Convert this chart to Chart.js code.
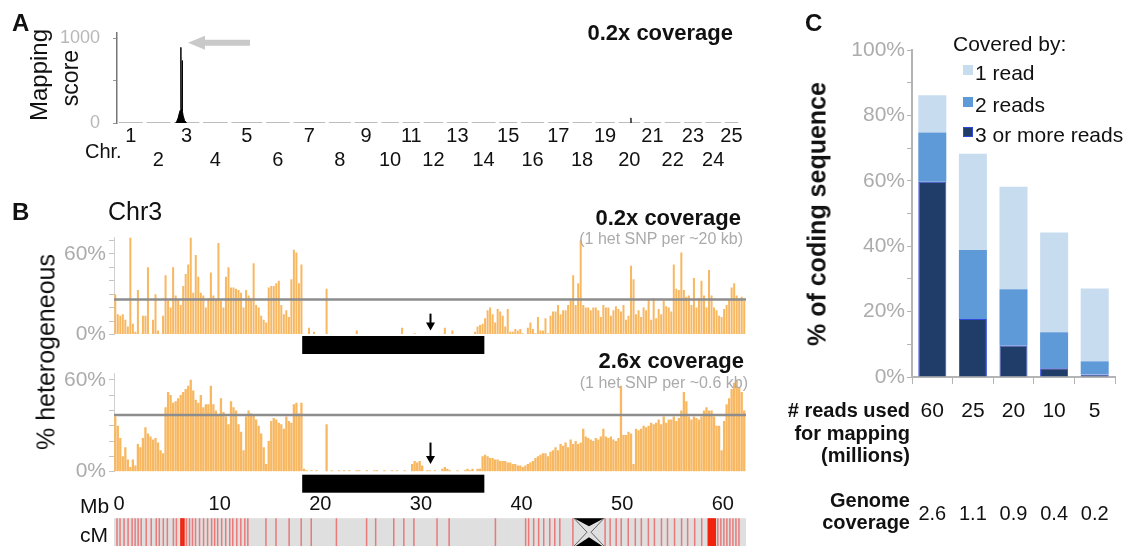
<!DOCTYPE html>
<html>
<head>
<meta charset="utf-8">
<title>Mapping by sequencing</title>
<script src="https://cdn.jsdelivr.net/npm/chart.js@4.4.1/dist/chart.umd.min.js"></script>
<style>
  html, body { margin: 0; padding: 0; background: #fff; }
  body { position: relative; width: 1132px; height: 546px; overflow: hidden;
         font-family: 'Liberation Sans', Arial, sans-serif; color: #111; }
  canvas { position: absolute; }
  .t { position: absolute; white-space: nowrap; line-height: 1; }
  .l { transform: translateY(-50%); }
  .r { transform: translate(-100%, -50%); text-align: right; }
  .v { transform: translate(-50%, -50%) rotate(-90deg); }
  .b { font-weight: bold; }
  .g { color: #ababab; }
  .key { position: absolute; width: 10px; height: 10px; }
</style>
</head>
<body>
<canvas id="chart-a" width="760" height="180" style="left:0;top:0"></canvas>
<canvas id="chart-b1" width="760" height="136" style="left:0;top:222px"></canvas>
<canvas id="chart-b2" width="760" height="188" style="left:0;top:358px"></canvas>
<canvas id="chart-c" width="372" height="546" style="left:760px;top:0"></canvas>

<!-- panel A labels -->
<div class="t b l" style="left:12px;top:23px;font-size:24px">A</div>
<div class="t b r" style="left:733px;top:33px;font-size:22px">0.2x coverage</div>
<div class="t v" style="left:39px;top:75px;font-size:24px">Mapping</div>
<div class="t v" style="left:70px;top:78px;font-size:23px">score</div>
<div class="t l" style="left:85px;top:151px;font-size:20px">Chr.</div>

<!-- panel B labels -->
<div class="t b l" style="left:12px;top:212px;font-size:24px">B</div>
<div class="t l" style="left:108px;top:211px;font-size:25px">Chr3</div>
<div class="t b r" style="left:741px;top:218px;font-size:22px">0.2x coverage</div>
<div class="t g r" style="left:743px;top:239px;font-size:16px">(1 het SNP per ~20 kb)</div>
<div class="t b r" style="left:744px;top:361px;font-size:22px">2.6x coverage</div>
<div class="t g r" style="left:748px;top:383px;font-size:16px">(1 het SNP per ~0.6 kb)</div>
<div class="t v" style="left:46px;top:352px;font-size:25px">% heterogeneous</div>
<div class="t l" style="left:80px;top:505px;font-size:21px">Mb</div>
<div class="t l" style="left:80px;top:534px;font-size:21px">cM</div>

<!-- panel C labels -->
<div class="t b l" style="left:805px;top:23px;font-size:24px">C</div>
<div class="t b v" style="left:817px;top:214px;font-size:25px">% of coding sequence</div>
<div class="t l" style="left:953px;top:43px;font-size:21px">Covered by:</div>
<div id="legend-c"></div>
<div class="t b r" style="left:910px;top:410px;font-size:20px">#&nbsp;reads used</div>
<div class="t b r" style="left:910px;top:433px;font-size:20px">for mapping</div>
<div class="t b r" style="left:910px;top:455px;font-size:20px">(millions)</div>
<div class="t b r" style="left:910px;top:500px;font-size:20px">Genome</div>
<div class="t b r" style="left:910px;top:522px;font-size:20px">coverage</div>

<script>
// ---------- Panel A: genome-wide mapping score ----------
const chromosomes = ['1', '2', '3', '4', '5', '6', '7', '8', '9', '10', '11', '12', '13',
                     '14', '15', '16', '17', '18', '19', '20', '21', '22', '23', '24', '25'];
const chrLengthsMb = [60.3, 60.3, 63.3, 62.1, 75.7, 59.9, 77.3, 56.2, 58.3, 46.6, 46.2, 50.7, 54.1,
                      60.2, 47.4, 58.8, 53.9, 49.9, 50.7, 55.2, 45.9, 42.3, 46.4, 42.1, 37.5];
// peak on chr3 (position within chr3, Mb) and its score
const chr3PeakMb    = [7.5, 10, 13, 15.5, 17.5, 18.8, 19.2, 19.6, 21.6, 22, 22.4, 24, 27, 31.5];
const chr3PeakScore = [0, 20, 60, 115, 150, 160, 890, 165, 150, 735, 140, 85, 30, 0];
// small blip on chr20
const chr20PeakMb    = [30.7, 31.1, 31.5];
const chr20PeakScore = [0, 60, 0];
const scoreTicks = [0, 500, 1000];

// ---------- Panel B: % heterogeneous SNPs along chr3 ----------
const binStartMb = -0.5;   // first bin starts here
const binSizeMb = 0.25;
const het02x = [
  30, 15, 14, 15, 11, 6, 72, 8, 2, 33,
  0, 14, 14, 50, 0, 11, 30, 3, 0, 14,
  44, 25, 20, 50, 29, 26, 22, 36, 45, 52,
  72, 31, 59, 43, 31, 29, 20, 27, 46, 29,
  26, 68, 25, 20, 43, 50, 35, 35, 34, 33,
  31, 20, 33, 29, 27, 53, 22, 20, 14, 11,
  9, 35, 36, 36, 38, 40, 22, 15, 18, 13,
  41, 63, 61, 38, 52, 0, 0, 5, 0, 2,
  0, 0, 0, 0, 34, 0, 0, 0, 0, 0,
  0, 0, 0, 0, 0, 0, 3, 0, 0, 0,
  0, 0, 0, 0, 0, 0, 0, 0, 0, 0,
  0, 0, 0, 0, 5, 0, 0, 0, 0, 1,
  0, 0, 0, 0, 0, 0, 0, 0, 0, 0,
  0, 5, 0, 0, 3, 0, 0, 0, 0, 0,
  0, 0, 0, 2, 6, 7, 8, 12, 18, 20,
  15, 9, 19, 17, 14, 6, 19, 2, 2, 4,
  3, 4, 1, 0, 5, 9, 4, 1, 13, 3,
  3, 12, 1, 14, 17, 17, 22, 15, 18, 18,
  22, 25, 44, 22, 38, 70, 22, 20, 20, 18,
  20, 20, 18, 13, 22, 20, 20, 14, 18, 21,
  19, 17, 22, 11, 14, 51, 41, 15, 18, 13,
  20, 18, 26, 11, 27, 12, 19, 15, 25, 21,
  20, 17, 52, 34, 33, 61, 33, 28, 29, 22,
  42, 20, 27, 40, 29, 20, 48, 29, 20, 18,
  14, 13, 19, 22, 26, 35, 38, 29, 27, 28,
  25
];
const het26x = [
  36, 30, 22, 10, 16, 8, 3, 8, 4, 18,
  16, 22, 29, 25, 23, 21, 22, 19, 14, 12,
  42, 52, 50, 45, 46, 48, 50, 52, 54, 56,
  60, 53, 47, 45, 50, 42, 44, 44, 56, 44,
  40, 37, 48, 39, 36, 31, 46, 42, 40, 31,
  26, 14, 36, 40, 38, 37, 34, 30, 25, 16,
  5, 20, 33, 35, 34, 32, 31, 28, 36, 33,
  32, 44, 45, 38, 45, 2, 1, 0, 1, 0,
  1, 0, 0, 0, 31, 0, 1, 0, 0, 1,
  0, 1, 0, 1, 0, 0, 1, 1, 0, 0,
  1, 0, 0, 1, 1, 0, 0, 1, 0, 0,
  1, 0, 1, 0, 0, 1, 0, 0, 5, 7,
  6, 7, 4, 0, 1, 1, 0, 1, 0, 0,
  2, 3, 2, 1, 0, 0, 1, 0, 0, 1,
  2, 1, 2, 0, 2, 2, 10, 11, 10, 9,
  9, 8, 8, 7, 7, 7, 6, 6, 5, 5,
  4, 4, 3, 4, 5, 6, 7, 9, 10, 11,
  12, 12, 10, 13, 14, 16, 14, 18, 17, 19,
  16, 21, 18, 20, 18, 19, 28, 23, 22, 21,
  20, 22, 21, 23, 28, 23, 22, 23, 21, 20,
  22, 56, 24, 24, 26, 25, 5, 28, 27, 28,
  30, 29, 30, 32, 31, 32, 34, 31, 36, 32,
  34, 34, 36, 33, 35, 40, 52, 46, 36, 34,
  36, 35, 34, 36, 40, 42, 40, 40, 36, 30,
  30, 14, 33, 44, 48, 54, 58, 60, 55, 52,
  40
];
const hetThreshold02x = 26;
const hetThreshold26x = 37;
const mbTicks = [0, 10, 20, 30, 40, 50, 60];
const chr3RangeMb = [-0.5, 62.3];
const mappingIntervalMb = [18.2, 36.3];
const candidateMb = 30.9;
const centromereMb = [45.2, 48.2];
const cmMarkersMb = [-0.2, 0.1, 0.5, 0.9, 1.3, 1.6, 1.9, 2.2, 2.7, 3.2, 3.7, 4.0, 4.4, 4.8, 5.4, 5.7,
                     6.7, 7.0, 7.3, 7.6, 8.0, 8.4, 8.8, 9.2, 9.5, 9.8, 10.2, 10.6, 11.0, 11.3, 11.7,
                     12.1, 12.5, 12.8, 14.6, 15.6, 16.9, 18.1, 19.1, 21.6, 24.6, 25.5, 27.3, 28.3,
                     29.3, 31.6, 32.8, 37.4, 40.4, 40.7, 41.2, 41.7, 42.2, 42.8, 43.3, 43.8, 45.1,
                     48.3, 48.8, 49.4, 49.9, 50.6, 51.3, 51.9, 52.6, 53.2, 53.9, 54.5, 55.2, 55.9,
                     56.5, 57.2, 57.9, 59.5, 59.8, 60.1, 60.4, 60.7, 61.0, 61.3, 61.6];
const cmStrongMb = [6.2, 6.4, 58.6, 58.8, 59.0, 59.2];

// ---------- Panel C: coverage of coding sequence ----------
const readsUsed = ['60', '25', '20', '10', '5'];
const genomeCoverage = ['2.6', '1.1', '0.9', '0.4', '0.2'];
const coveredThreePlus = [59.7, 17.7, 9.6, 2.7, 0.8];
const coveredTwo       = [15.1, 21.1, 17.2, 11.0, 4.0];
const coveredOne       = [11.4, 29.5, 31.4, 30.5, 22.3];

const ORANGE = '#f8b862';
const AXIS_GRAY = '#b4b4b4';
const BLUE_LIGHT = '#c8dcf0';
const BLUE_MID = '#5f9ad8';
const BLUE_DARK = '#1f3d68';

Chart.defaults.font.family = "'Liberation Sans', Arial, sans-serif";
Chart.defaults.animation = false;
Chart.defaults.plugins.legend.display = false;
Chart.defaults.plugins.tooltip.enabled = false;

// ---------- build panel A ----------
const chrStartMb = [];
let genomeLengthMb = 0;
chrLengthsMb.forEach(len => { chrStartMb.push(genomeLengthMb); genomeLengthMb += len; });
const chrCentersMb = chrLengthsMb.map((len, i) => chrStartMb[i] + len / 2);

const baselinePoints = [];
chrLengthsMb.forEach((len, i) => {
    baselinePoints.push({ x: chrStartMb[i] + 4, y: 0 });
    baselinePoints.push({ x: chrStartMb[i] + len - 4, y: 0 });
    baselinePoints.push({ x: chrStartMb[i] + len, y: null });
});

const chr3Offset = chrStartMb[2];
const chr20Offset = chrStartMb[19];

// grey arrow pointing at the chr3 peak
const peakArrow = {
    id: 'peakArrow',
    afterDatasetsDraw(chart) {
        const { ctx, scales: { x, y } } = chart;
        const tipX = x.getPixelForValue(chr3Offset + chr3PeakMb[6]) + 7;
        const tipY = y.getPixelForValue(945);
        ctx.save();
        ctx.fillStyle = '#c9c9c9';
        ctx.beginPath();
        ctx.moveTo(tipX, tipY);
        ctx.lineTo(tipX + 17, tipY - 7);
        ctx.lineTo(tipX + 17, tipY - 3);
        ctx.lineTo(tipX + 62, tipY - 3);
        ctx.lineTo(tipX + 62, tipY + 3);
        ctx.lineTo(tipX + 17, tipY + 3);
        ctx.lineTo(tipX + 17, tipY + 7);
        ctx.closePath();
        ctx.fill();
        ctx.restore();
    }
};

new Chart(document.getElementById('chart-a'), {
    type: 'line',
    data: {
        datasets: [
            {
                data: chr3PeakMb.map((m, i) => ({ x: chr3Offset + m, y: chr3PeakScore[i] })),
                borderColor: '#000', backgroundColor: '#000', borderWidth: 1,
                fill: 'origin', pointRadius: 0, tension: 0
            },
            {
                data: chr20PeakMb.map((m, i) => ({ x: chr20Offset + m, y: chr20PeakScore[i] })),
                borderColor: '#222', borderWidth: 1, pointRadius: 0, tension: 0
            },
            {
                data: baselinePoints,
                borderColor: '#bdbdbd', borderWidth: 2, pointRadius: 0, spanGaps: false
            }
        ]
    },
    options: {
        responsive: false,
        layout: { padding: { top: 33, right: 20, bottom: 8, left: 0 } },
        scales: {
            x: {
                type: 'linear', min: 0, max: genomeLengthMb, offset: false,
                grid: { display: false, drawTicks: false },
                border: { display: false },
                afterBuildTicks: s => { s.ticks = chrCentersMb.map(v => ({ value: v })); },
                afterFit: s => { s.height = 49; },
                ticks: {
                    autoSkip: false, maxRotation: 0, minRotation: 0, padding: 1,
                    color: '#111', font: { size: 20 },
                    callback: (v, i) => (i % 2 === 0 ? [chromosomes[i], ''] : ['', chromosomes[i]])
                }
            },
            y: {
                min: 0, max: 1059,
                grid: { drawOnChartArea: false, tickLength: 4, color: '#999' },
                border: { color: '#777', width: 1.5 },
                afterBuildTicks: s => { s.ticks = scoreTicks.map(v => ({ value: v })); },
                afterFit: s => { s.width = 117; },
                ticks: {
                    autoSkip: false, padding: 13, color: '#b8b8b8', font: { size: 18 },
                    callback: v => (v === 500 ? '' : String(v))
                }
            }
        }
    },
    plugins: [peakArrow]
});

// ---------- build panel B ----------
const binCentersMb = het02x.map((_, i) => binStartMb + binSizeMb * (i + 0.5));

function drawCmStrip(chart, top) {
    const { ctx, scales: { x } } = chart;
    const h = 30;
    const left = x.getPixelForValue(chr3RangeMb[0]);
    const right = x.getPixelForValue(chr3RangeMb[1]);
    ctx.fillStyle = '#dfdfdf';
    ctx.fillRect(left, top, right - left, h);

    ctx.lineWidth = 1.5;
    ctx.strokeStyle = 'rgba(238, 78, 78, 0.7)';
    cmMarkersMb.forEach(m => {
        const px = x.getPixelForValue(m);
        ctx.beginPath(); ctx.moveTo(px, top); ctx.lineTo(px, top + h); ctx.stroke();
    });
    ctx.lineWidth = 2.5;
    ctx.strokeStyle = '#f2220c';
    cmStrongMb.forEach(m => {
        const px = x.getPixelForValue(m);
        ctx.beginPath(); ctx.moveTo(px, top); ctx.lineTo(px, top + h); ctx.stroke();
    });

    // centromere hourglass
    const c0 = x.getPixelForValue(centromereMb[0]);
    const c1 = x.getPixelForValue(centromereMb[1]);
    const cm = (c0 + c1) / 2;
    ctx.strokeStyle = '#666';
    ctx.lineWidth = 1;
    ctx.beginPath();
    ctx.moveTo(c0, top); ctx.lineTo(cm - 2, top + 14); ctx.lineTo(c0, top + 28);
    ctx.moveTo(c1, top); ctx.lineTo(cm + 2, top + 14); ctx.lineTo(c1, top + 28);
    ctx.stroke();
    ctx.fillStyle = '#000';
    ctx.beginPath();
    ctx.moveTo(c0, top); ctx.lineTo(c1, top); ctx.lineTo(cm, top + 8); ctx.closePath();
    ctx.fill();
    ctx.beginPath();
    ctx.moveTo(c0, top + 29); ctx.lineTo(c1, top + 29); ctx.lineTo(cm, top + 19); ctx.closePath();
    ctx.fill();
}

const chr3Decor = {
    id: 'chr3Decor',
    afterDatasetsDraw(chart, args, opts) {
        const { ctx, chartArea, scales: { x, y } } = chart;
        ctx.save();
        // mapping interval
        const x0 = x.getPixelForValue(mappingIntervalMb[0]);
        const x1 = x.getPixelForValue(mappingIntervalMb[1]);
        ctx.fillStyle = '#000';
        ctx.fillRect(x0, chartArea.bottom + opts.barOffset, x1 - x0, 18);
        // candidate position arrow
        const ax = Math.round(x.getPixelForValue(candidateMb)) + 0.5;
        const yTail = y.getPixelForValue(opts.arrowFrom);
        const yTip = y.getPixelForValue(opts.arrowTo);
        ctx.strokeStyle = '#000';
        ctx.lineWidth = 2;
        ctx.beginPath(); ctx.moveTo(ax, yTail); ctx.lineTo(ax, yTip - 5); ctx.stroke();
        ctx.beginPath();
        ctx.moveTo(ax - 4.5, yTip - 8); ctx.lineTo(ax + 4.5, yTip - 8); ctx.lineTo(ax, yTip);
        ctx.closePath(); ctx.fill();
        if (opts.cmStripOffset) drawCmStrip(chart, chartArea.bottom + opts.cmStripOffset);
        ctx.restore();
    }
};

function hetChart(canvasId, values, threshold, cfg) {
    return new Chart(document.getElementById(canvasId), {
        type: 'bar',
        data: {
            datasets: [
                {
                    type: 'line',
                    data: [{ x: chr3RangeMb[0], y: threshold }, { x: chr3RangeMb[1], y: threshold }],
                    borderColor: '#8d8d8d', borderWidth: 2.5, pointRadius: 0, order: 0
                },
                {
                    data: values.map((v, i) => ({ x: binCentersMb[i], y: v })),
                    backgroundColor: ORANGE, borderWidth: 0,
                    barPercentage: 1, categoryPercentage: cfg.barFill, order: 1
                }
            ]
        },
        options: {
            responsive: false,
            layout: { padding: cfg.padding },
            scales: {
                x: {
                    type: 'linear', min: chr3RangeMb[0], max: chr3RangeMb[1], offset: false,
                    display: cfg.showMb,
                    grid: { display: false, drawTicks: false },
                    border: { display: false },
                    afterBuildTicks: s => { s.ticks = mbTicks.map(v => ({ value: v })); },
                    afterFit: s => { s.height = cfg.showMb ? 44.3 : 0; },
                    ticks: { autoSkip: false, padding: 21, color: '#111', font: { size: 20 }, maxRotation: 0 }
                },
                y: {
                    min: 0, max: cfg.yMax,
                    grid: { drawOnChartArea: false, tickLength: 5, color: '#c4c4c4' },
                    border: { color: '#d0d0d0', width: 1 },
                    afterBuildTicks: s => { s.ticks = cfg.yTicks.map(v => ({ value: v })); },
                    afterFit: s => { s.width = 114; },
                    ticks: {
                        autoSkip: false, padding: 3, color: '#acacac', font: { size: 21 },
                        callback: v => (v === 0 || v === 60 ? v + '%' : '')
                    }
                }
            },
            plugins: { chr3Decor: cfg.decor }
        },
        plugins: [chr3Decor]
    });
}

hetChart('chart-b1', het02x, hetThreshold02x, {
    yMax: 72, yTicks: [0, 10, 20, 30, 40, 50, 60, 70], showMb: false, barFill: 0.8,
    padding: { top: 7.4, right: 14, bottom: 23.5, left: 0 },
    decor: { barOffset: 1.5, arrowFrom: 15.5, arrowTo: 3 }
});

hetChart('chart-b2', het26x, hetThreshold26x, {
    yMax: 64, yTicks: [0, 10, 20, 30, 40, 50, 60], showMb: true, barFill: 0.92,
    padding: { top: 7.3, right: 14, bottom: 30, left: 0 },
    decor: { barOffset: 3, arrowFrom: 19, arrowTo: 5, cmStripOffset: 46.5 }
});

// ---------- build panel C ----------
const coverageSeries = [
    { label: '1 read', data: coveredOne, color: BLUE_LIGHT },
    { label: '2 reads', data: coveredTwo, color: BLUE_MID },
    { label: '3 or more reads', data: coveredThreePlus, color: BLUE_DARK }
];

new Chart(document.getElementById('chart-c'), {
    type: 'bar',
    data: {
        labels: readsUsed,
        datasets: coverageSeries.slice().reverse().map(s => ({
            label: s.label,
            data: s.data,
            backgroundColor: s.color,
            borderColor: s.color === BLUE_DARK ? '#3048d8' : s.color,
            borderWidth: s.color === BLUE_DARK ? 1 : 0,
            barPercentage: 0.69,
            categoryPercentage: 1
        }))
    },
    options: {
        responsive: false,
        layout: { padding: { top: 50, right: 17, bottom: 22, left: 0 } },
        scales: {
            x: {
                stacked: true, offset: true, weight: 0,
                grid: { offset: true, drawOnChartArea: false, tickLength: 7, color: AXIS_GRAY },
                border: { color: AXIS_GRAY, width: 2 },
                afterFit: s => { s.height = 47; },
                ticks: { autoSkip: false, maxRotation: 0, minRotation: 0, padding: 15,
                         color: '#111', font: { size: 21 } }
            },
            x2: {
                type: 'category', labels: genomeCoverage, position: 'bottom', offset: true, weight: 1,
                grid: { display: false, drawTicks: false },
                border: { display: false },
                afterFit: s => { s.height = 100; },
                ticks: {
                    autoSkip: false, maxRotation: 0, minRotation: 0, padding: 6,
                    color: '#111', font: { size: 20 },
                    // three blank lines push the coverage values down to their own row
                    callback: (v, i) => ['', '', '', genomeCoverage[i]]
                }
            },
            y: {
                stacked: true, min: 0, max: 100,
                grid: { drawOnChartArea: false, tickLength: 5, color: AXIS_GRAY },
                border: { color: AXIS_GRAY, width: 2 },
                afterFit: s => { s.width = 152; },
                ticks: {
                    stepSize: 10, autoSkip: false, padding: 2, color: '#acacac', font: { size: 21 },
                    callback: v => (v % 20 === 0 ? v + '%' : '')
                }
            }
        }
    }
});

// legend for panel C
const legendC = document.getElementById('legend-c');
coverageSeries.forEach((s, i) => {
    const y = [70, 102, 132][i];
    const box = document.createElement('div');
    box.className = 'key';
    box.style.left = '963px';
    box.style.top = (y - 5) + 'px';
    box.style.background = s.color;
    if (s.color === BLUE_DARK) box.style.boxShadow = 'inset 0 0 0 1px #3048d8';
    legendC.appendChild(box);
    const txt = document.createElement('div');
    txt.className = 't l';
    txt.style.left = '975px';
    txt.style.top = (y + 2) + 'px';
    txt.style.fontSize = '21px';
    txt.textContent = s.label;
    legendC.appendChild(txt);
});
</script>
</body>
</html>
